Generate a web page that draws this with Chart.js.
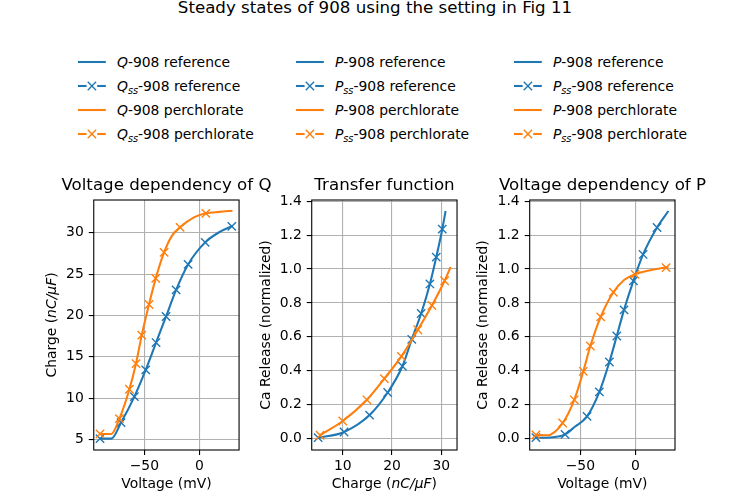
<!DOCTYPE html>
<html>
<head>
<meta charset="utf-8">
<script src="https://cdn.jsdelivr.net/npm/chart.js@4.4.0/dist/chart.umd.min.js"></script>
<style>
  body { margin: 0; width: 750px; height: 500px; position: relative; background: #fff; overflow: hidden;
         font-family: 'DejaVu Sans', sans-serif; color: #000; }
  canvas { position: absolute; }
  .sup { position: absolute; left: 0; top: -2px; width: 750px; text-align: center; font-size: 16.67px; line-height: 20px; }
  .leg { position: absolute; height: 16px; font-size: 13.9px; line-height: 16px; white-space: nowrap; }
  .leg svg { position: absolute; left: 0; top: 0; }
  .leg span { position: absolute; left: 39px; top: 0; }
  sub { font-size: 70%; vertical-align: -0.3em; line-height: 0; }
</style>
</head>
<body>
<div class="sup">Steady states of 908 using the setting in Fig 11</div>
<div id="legends"></div>
<script>
const C0 = '#1f77b4';
const C1 = '#ff7f0e';

// Voltage dependency of Q  (voltage in mV, charge in nC/uF)
const qRefLineV = [-90, -80, -71.2, -59.1, -48.8, -39.4, -30.3, -21.2, -10.3, 5.2, 18.8, 30];
const qRefLineQ = [5.12, 5.12, 7.06, 10.2, 13.43, 16.73, 19.88, 23.1, 26.17, 28.83, 30.12, 30.82];
const qssRefV = [-90.3, -71.2, -59.1, -48.8, -39.4, -30.3, -21.2, -10.3, 5.2, 29.4];
const qssRefQ = [5.12, 7.06, 10.2, 13.43, 16.73, 19.88, 23.1, 26.17, 28.83, 30.77];
const qPerLineV = [-90, -80, -72.7, -63.6, -57.6, -52.4, -45.8, -39.7, -32.1, -25, -17.6, -5, 5.8, 18, 30];
const qPerLineQ = [5.69, 5.69, 7.54, 11.09, 14.19, 17.62, 21.33, 24.48, 27.62, 29.62, 30.65, 31.85, 32.34, 32.52, 32.66];
const qssPerV = [-90.3, -72.7, -63.6, -57.6, -52.4, -45.8, -39.7, -32.1, -17.6, 5.8];
const qssPerQ = [5.69, 7.54, 11.09, 14.19, 17.62, 21.33, 24.48, 27.62, 30.65, 32.34];

// Transfer function  (charge -> normalized Ca release)
const tRefLineQ = [5.05, 10.27, 15.44, 19.12, 22.11, 24.01, 25.92, 27.69, 28.98, 30.2, 30.88];
const tRefLineP = [0.005, 0.039, 0.139, 0.272, 0.427, 0.585, 0.738, 0.912, 1.07, 1.235, 1.342];
const tssRefQ = [5.0, 10.27, 15.44, 19.12, 22.11, 24.01, 25.92, 27.69, 28.98, 30.2];
const tssRefP = [0.006, 0.039, 0.139, 0.272, 0.427, 0.585, 0.738, 0.912, 1.07, 1.235];
const tPerLineQ = [5.4, 10.0, 14.9, 18.44, 21.9, 25.24, 28.1, 30.68, 31.9];
const tPerLineP = [0.02, 0.104, 0.229, 0.354, 0.485, 0.642, 0.785, 0.931, 1.012];
const tssPerQ = [5.4, 10.0, 14.9, 18.44, 21.9, 25.24, 28.1, 30.68];
const tssPerP = [0.02, 0.104, 0.229, 0.354, 0.485, 0.642, 0.785, 0.931];

// Voltage dependency of P
const pRefLineV = [-90, -75, -63.9, -55, -43.9, -32.7, -23.6, -16.9, -10.3, -1.8, 7.0, 19.7, 30];
const pRefLineP = [0.005, 0.008, 0.025, 0.07, 0.131, 0.276, 0.452, 0.605, 0.759, 0.93, 1.086, 1.245, 1.342];
const pssRefV = [-90.3, -63.9, -43.9, -32.7, -23.6, -16.9, -10.3, -1.8, 7.0, 19.7];
const pssRefP = [0.006, 0.025, 0.131, 0.276, 0.452, 0.605, 0.759, 0.93, 1.086, 1.245];
const pPerLineV = [-90, -80, -66.1, -55.5, -47.3, -40.9, -31.5, -20, -10, -0.3, 10, 30];
const pPerLineP = [0.021, 0.02, 0.092, 0.229, 0.397, 0.546, 0.718, 0.863, 0.937, 0.969, 0.988, 1.012];
const pssPerV = [-90.3, -66.1, -55.5, -47.3, -40.9, -31.5, -20.0, -0.3, 27.9];
const pssPerP = [0.022, 0.092, 0.229, 0.397, 0.546, 0.718, 0.863, 0.969, 1.008];

// tick labels
const voltageTicks = [-50, 0];
const chargeTicks = [5, 10, 15, 20, 25, 30];
const chargeXTicks = [10, 20, 30];
const releaseTicks = [0, 0.2, 0.4, 0.6, 0.8, 1.0, 1.2, 1.4];

// axis labels with an italic unit part: [text, italic]
const chargeLabel = [['Charge (', false], ['nC/\u03bcF', true], [')', false]];

Chart.defaults.font.family = "'DejaVu Sans', sans-serif";
Chart.defaults.color = '#000';

const pts = (xs, ys) => xs.map((x, i) => ({ x: x, y: ys[i] }));

function lineSet(xs, ys, color, order) {
  return { data: pts(xs, ys), showLine: true, borderColor: color, borderWidth: 2.08,
           pointRadius: 0, cubicInterpolationMode: 'monotone', fill: false, order: order };
}
function markSet(xs, ys, color, order) {
  return { data: pts(xs, ys), showLine: false, pointStyle: 'crossRot', pointRadius: 5.9,
           pointBorderColor: color, pointBackgroundColor: color, pointBorderWidth: 1.39, order: order };
}

// spines on all four sides
const frame = {
  id: 'frame',
  afterDatasetsDraw(chart) {
    const { ctx, chartArea: a } = chart;
    ctx.save();
    ctx.strokeStyle = '#000';
    ctx.lineWidth = 1.1;
    ctx.strokeRect(a.left, a.top, a.right - a.left, a.bottom - a.top);
    ctx.restore();
  }
};

function drawSegments(ctx, segs, cx, cy, rot) {
  ctx.save();
  ctx.translate(cx, cy);
  ctx.rotate(rot);
  ctx.textBaseline = 'middle';
  ctx.fillStyle = '#000';
  const fonts = segs.map(s => (s[1] ? 'italic ' : '') + "13.9px 'DejaVu Sans'");
  const widths = segs.map((s, i) => { ctx.font = fonts[i]; return ctx.measureText(s[0]).width; });
  let x = -widths.reduce((a, b) => a + b, 0) / 2;
  segs.forEach((s, i) => { ctx.font = fonts[i]; ctx.fillText(s[0], x, 0); x += widths[i]; });
  ctx.restore();
}

// draws the mixed-style axis titles
const richTitles = {
  id: 'richTitles',
  afterDraw(chart, args, opts) {
    const { ctx, chartArea: a } = chart;
    if (opts.x) drawSegments(ctx, opts.x, (a.left + a.right) / 2, chart.height - 8.33 - 7, 0);
    if (opts.y) drawSegments(ctx, opts.y, 8.33, (a.top + a.bottom) / 2, -Math.PI / 2);
  }
};

const minus = v => (v < 0 ? '\u2212' + Math.abs(v) : String(v));
const oneDec = v => v.toFixed(1);

function axis(min, max, ticks, label, fmt, isX, size) {
  return {
    type: 'linear', position: isX ? 'bottom' : 'left', min: min, max: max,
    afterBuildTicks: s => { s.ticks = ticks.map(v => ({ value: v })); },
    afterFit: s => { if (isX) s.height = size; else s.width = size; },
    ticks: { callback: fmt, padding: isX ? 3 : 5, font: { size: 13.9 }, maxRotation: 0, autoSkip: false },
    grid: { color: '#b0b0b0', lineWidth: 1.1, tickColor: '#000', tickLength: 5, tickWidth: 1.1 },
    border: { display: false },
    title: { display: typeof label === 'string', text: typeof label === 'string' ? label : '',
             font: { size: 13.9 }, padding: isX ? { top: 0, bottom: 7 } : { top: 0, bottom: 0 } }
  };
}

// empty box on the right so the panel title is centred over the axes
function spacer(size) {
  return {
    type: 'linear', position: 'right', display: true,
    grid: { display: false, drawTicks: false }, ticks: { display: false }, border: { display: false },
    afterFit: s => { s.width = size; }
  };
}

const canvasTop = 160, canvasH = 340;

function makeChart(box, title, datasets, xAxis, yAxisFn, rich) {
  const cv = document.createElement('canvas');
  const yW = box.axLeft - box.left;
  const w = Math.ceil(box.axRight - box.left + yW);
  cv.width = w; cv.height = canvasH;
  cv.style.left = box.left + 'px'; cv.style.top = canvasTop + 'px';
  cv.style.width = w + 'px'; cv.style.height = canvasH + 'px';
  document.body.appendChild(cv);
  new Chart(cv, {
    type: 'scatter',
    data: { datasets: datasets },
    options: {
      responsive: false, animation: false,
      layout: { padding: 0 },
      plugins: {
        legend: { display: false }, tooltip: { enabled: false },
        title: { display: true, text: title, color: '#000', font: { size: 16.67, weight: 'normal' },
                 padding: { top: 16, bottom: 4 } },
        richTitles: rich
      },
      scales: { x: xAxis, y: yAxisFn(yW), yPad: spacer(w - (box.axRight - box.left)) }
    },
    plugins: [frame, richTitles]
  });
}

const boxes = [
  { left: 44, axLeft: 93.75, axRight: 239.06 },
  { left: 258, axLeft: 311.72, axRight: 457.03 },
  { left: 475, axLeft: 529.69, axRight: 675 }
];

makeChart(boxes[0], 'Voltage dependency of Q', [
    lineSet(qRefLineV, qRefLineQ, C0, 4), markSet(qssRefV, qssRefQ, C0, 3),
    lineSet(qPerLineV, qPerLineQ, C1, 2), markSet(qssPerV, qssPerQ, C1, 1)],
  axis(-96, 36, voltageTicks, 'Voltage (mV)', minus, true, 50),
  wdt => axis(3.75, 33.95, chargeTicks, chargeLabel, v => String(v), false, wdt),
  { y: chargeLabel });

makeChart(boxes[1], 'Transfer function', [
    lineSet(tRefLineQ, tRefLineP, C0, 4), markSet(tssRefQ, tssRefP, C0, 3),
    lineSet(tPerLineQ, tPerLineP, C1, 2), markSet(tssPerQ, tssPerP, C1, 1)],
  axis(3.7, 33.2, chargeXTicks, chargeLabel, v => String(v), true, 50),
  wdt => axis(-0.067, 1.407, releaseTicks, 'Ca Release (normalized)', oneDec, false, wdt),
  { x: chargeLabel });

makeChart(boxes[2], 'Voltage dependency of P', [
    lineSet(pRefLineV, pRefLineP, C0, 4), markSet(pssRefV, pssRefP, C0, 3),
    lineSet(pPerLineV, pPerLineP, C1, 2), markSet(pssPerV, pssPerP, C1, 1)],
  axis(-96, 36, voltageTicks, 'Voltage (mV)', minus, true, 50),
  wdt => axis(-0.067, 1.407, releaseTicks, 'Ca Release (normalized)', oneDec, false, wdt),
  {});

// legends above each panel
const legendSyms = ['Q', 'P', 'P'];
const legendRowsY = [62, 85.5, 110, 134];
const legendRows = [
  { ss: false, what: 'reference', color: C0 },
  { ss: true, what: 'reference', color: C0 },
  { ss: false, what: 'perchlorate', color: C1 },
  { ss: true, what: 'perchlorate', color: C1 }
];

function handle(row) {
  const c = row.color;
  if (!row.ss) {
    return '<svg width="28" height="16"><line x1="0" y1="8" x2="27.8" y2="8" stroke="' + c + '" stroke-width="2.08"/></svg>';
  }
  const m = 4.17;
  return '<svg width="28" height="16">' +
    '<line x1="0" y1="8" x2="8.6" y2="8" stroke="' + c + '" stroke-width="2.08"/>' +
    '<line x1="19.2" y1="8" x2="27.8" y2="8" stroke="' + c + '" stroke-width="2.08"/>' +
    '<line x1="' + (13.9 - m) + '" y1="' + (8 - m) + '" x2="' + (13.9 + m) + '" y2="' + (8 + m) + '" stroke="' + c + '" stroke-width="1.39"/>' +
    '<line x1="' + (13.9 - m) + '" y1="' + (8 + m) + '" x2="' + (13.9 + m) + '" y2="' + (8 - m) + '" stroke="' + c + '" stroke-width="1.39"/>' +
    '</svg>';
}

let html = '';
boxes.forEach((b, k) => {
  const x = b.axLeft - 15.8;
  legendRows.forEach((r, i) => {
    const sym = r.ss ? '<i>' + legendSyms[k] + '<sub>ss</sub></i>' : '<i>' + legendSyms[k] + '</i>';
    html += '<div class="leg" style="left:' + x + 'px;top:' + (legendRowsY[i] - 8) + 'px">' +
      handle(r) + '<span>' + sym + '-908 ' + r.what + '</span></div>';
  });
});
document.getElementById('legends').innerHTML = html;
</script>
</body>
</html>
